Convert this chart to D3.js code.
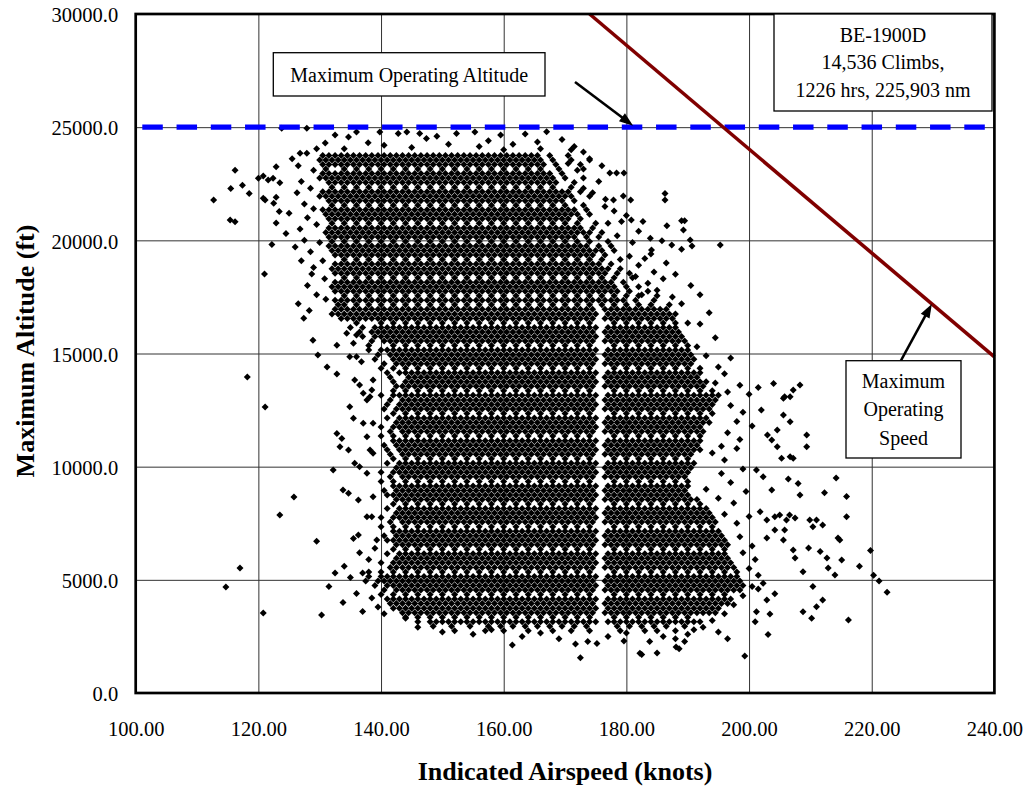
<!DOCTYPE html>
<html><head><meta charset="utf-8">
<script src="https://cdn.jsdelivr.net/npm/d3@7"></script>
<style>html,body{margin:0;padding:0;background:#fff;}svg{display:block;}</style>
</head><body><svg id="chart" width="1031" height="788"></svg>
<script>
// ---------------- DATA ----------------
const xTicks=[100,120,140,160,180,200,220,240];
const yTicks=[0,5000,10000,15000,20000,25000,30000];
const maxOperatingAltitude=25000;
const vmoKt=[174,240];
const vmoFt=[30000,14850];
const infoLines=["BE-1900D","14,536 Climbs,","1226 hrs, 225,903 nm"];

// airspeeds (kt) shared by the rows of the dense 3,000-17,000 ft core
const coreIntKt=[145,146,147,148,149,150,151,152,153,154,155,156,157,158,159,160,161,162,163,164,165,166,167,168,169,170,171,172,173,174,175,177,178,179,180,181,182,183,184,185,186];
const coreHalfKt=[145.5,146.5,147.5,148.5,149.5,150.5,151.5,152.5,153.5,154.5,155.5,156.5,157.5,158.5,159.5,160.5,161.5,162.5,163.5,164.5,165.5,166.5,167.5,168.5,169.5,170.5,171.5,172.5,173.5,174.5,176.5,177.5,178.5,179.5,180.5,181.5,182.5,183.5,184.5,185.5];
const coreSparseKt=[144,146,148,150,152,154,156,158,160,162,164,166,168,170,172,174,178,180,182,184,186,188];
// airspeeds shared by the rows of the upper 17,000-24,000 ft bands
const upperIntKt=[133,134,135,136,137,138,139,140,141,142,143,144,145,146,147,148,149,150,151,152,153,154,155,156,157,158,159,160,161,162,163];
const upperHalfKt=[133.5,134.5,135.5,136.5,137.5,138.5,139.5,140.5,141.5,142.5,143.5,144.5,145.5,146.5,147.5,148.5,149.5,150.5,151.5,152.5,153.5,154.5,155.5,156.5,157.5,158.5,159.5,160.5,161.5,162.5,163.5];
const upperSparseKt=[134,136,138,140,142,144,146,148,150,152,154,156,158,160,162,164];

// [altitude ft, shared block, extra airspeeds]
const coreRows=[
[16950,'half',"132.5 133.5 134.5 135.5 136.5 137.5 138.5 139.5 140.5 141.5 142.5 143.5 144.5 186.5"],
[16750,'int',"132 133 134 135 136 137 138 139 140 141 142 143 144 187 188"],
[16550,'half',"133.5 134.5 135.5 136.5 137.5 138.5 139.5 140.5 141.5 142.5 143.5 144.5 186.5 187.5"],
[16350,'sparse',"136 140 142 190"],
[16150,'int',"135 137 139 140 141 142 143 144 187 188"],
[15950,'half',"136.5 138.5 139.5 140.5 141.5 142.5 143.5 144.5 186.5 187.5 188.5"],
[15750,'int',"137 139 140 141 142 143 144 187 188 189"],
[15550,'half',"138.5 140.5 141.5 142.5 143.5 144.5 186.5 187.5 188.5 189.5"],
[15350,'sparse',"138 142 190"],
[15150,'int',"138 140 141 142 143 144 187 188 189 190"],
[14950,'half',"139.5 141.5 142.5 143.5 144.5 186.5 187.5 188.5 189.5 190.5"],
[14750,'int',"139 142 143 144 187 188 189 190 191"],
[14550,'half',"140.5 142.5 143.5 144.5 186.5 187.5 188.5 189.5 190.5"],
[14350,'sparse',"140 142 190 192"],
[14150,'int',"141 143 144 187 188 189 190 191 192"],
[13950,'half',"141.5 144.5 186.5 187.5 188.5 189.5 190.5 191.5"],
[13750,'int',"142 144 187 188 189 190 191 192 193"],
[13550,'half',"142.5 143.5 144.5 186.5 187.5 188.5 189.5 190.5 191.5 192.5"],
[13350,'sparse',"142 190 192 194"],
[13150,'int',"140 142 143 144 187 188 189 190 191 192 193 194 195"],
[12950,'half',"141.5 143.5 144.5 186.5 187.5 188.5 189.5 190.5 191.5 192.5 193.5 194.5"],
[12750,'int',"141 143 144 187 188 189 190 191 192 193 194"],
[12550,'half',"140.5 142.5 143.5 144.5 186.5 187.5 188.5 189.5 190.5 191.5 192.5 193.5"],
[12350,'sparse',"142 190 192 194"],
[12150,'int',"141 143 144 187 188 189 190 191 192 193"],
[11950,'half',"142.5 143.5 144.5 186.5 187.5 188.5 189.5 190.5 191.5 192.5 193.5"],
[11750,'int',"140 142 143 144 187 188 189 190 191 192"],
[11550,'half',"141.5 143.5 144.5 186.5 187.5 188.5 189.5 190.5 191.5 192.5"],
[11350,'sparse',"140 142 190 192"],
[11150,'int',"142 143 144 187 188 189 190 191 192"],
[10950,'half',"140.5 142.5 143.5 144.5 186.5 187.5 188.5 189.5 190.5 191.5"],
[10750,'int',"141 143 144 187 188 189 190 191 192"],
[10550,'half',"141.5 143.5 144.5 186.5 187.5 188.5 189.5 190.5"],
[10350,'sparse',"142 190"],
[10150,'int',"141 143 144 187 188 189 190 191"],
[9950,'half',"142.5 143.5 144.5 186.5 187.5 188.5 189.5 190.5"],
[9750,'int',"140 142 143 144 187 188 189 190"],
[9550,'half',"141.5 143.5 144.5 186.5 187.5 188.5 189.5"],
[9350,'sparse',"140 142 190"],
[9150,'int',"142 143 144 187 188 189 190"],
[8950,'half',"140.5 142.5 143.5 144.5 186.5 187.5 188.5 189.5"],
[8750,'int',"141 142 143 144 187 188 189 190"],
[8550,'half',"142.5 143.5 144.5 186.5 187.5 188.5 189.5 190.5 191.5"],
[8350,'sparse',"142 190 192"],
[8150,'int',"141 143 144 187 188 189 190 191 192 193"],
[7950,'half',"142.5 143.5 144.5 186.5 187.5 188.5 189.5 190.5 191.5 192.5 193.5"],
[7750,'int',"140 142 143 144 187 188 189 190 191 192 193 194"],
[7550,'half',"141.5 143.5 144.5 186.5 187.5 188.5 189.5 190.5 191.5 192.5 193.5 194.5"],
[7350,'sparse',"140 142 190 192 194"],
[7150,'int',"142 143 144 187 188 189 190 191 192 193 194 195"],
[6950,'half',"140.5 142.5 143.5 144.5 186.5 187.5 188.5 189.5 190.5 191.5 192.5 193.5 194.5 195.5"],
[6750,'int',"141 142 143 144 187 188 189 190 191 192 193 194 195 196"],
[6550,'half',"142.5 143.5 144.5 186.5 187.5 188.5 189.5 190.5 191.5 192.5 193.5 194.5 195.5 196.5"],
[6350,'sparse',"142 190 192 194 196"],
[6150,'int',"141 143 144 187 188 189 190 191 192 193 194 195 196"],
[5950,'half',"142.5 143.5 144.5 186.5 187.5 188.5 189.5 190.5 191.5 192.5 193.5 194.5 195.5 196.5"],
[5750,'int',"140 142 143 144 187 188 189 190 191 192 193 194 195 196 197"],
[5550,'half',"141.5 142.5 143.5 144.5 186.5 187.5 188.5 189.5 190.5 191.5 192.5 193.5 194.5 195.5 196.5 197.5"],
[5350,'sparse',"138 140 142 190 192 194 196 198"],
[5150,'int',"138 140 141 142 143 144 187 188 189 190 191 192 193 194 195 196 197 198"],
[4950,'half',"137.5 139.5 140.5 141.5 142.5 143.5 144.5 186.5 187.5 188.5 189.5 190.5 191.5 192.5 193.5 194.5 195.5 196.5 197.5 198.5"],
[4750,'int',"139 141 142 143 144 187 188 189 190 191 192 193 194 195 196 197 198 199"],
[4550,'half',"140.5 142.5 143.5 144.5 186.5 187.5 188.5 189.5 190.5 191.5 192.5 193.5 194.5 195.5 196.5 197.5 198.5"],
[4350,'sparse',"140 142 190 192 194 196"],
[4150,'int',"141 142 143 144 187 188 189 190 191 192 193 194 195 196 197"],
[3950,'half',"141.5 142.5 143.5 144.5 186.5 187.5 188.5 189.5 190.5 191.5 192.5 193.5 194.5 195.5 196.5"],
[3750,'int',"142 143 144 187 188 189 190 191 192 193 194 195"],
[3550,'half',"143.5 144.5 186.5 187.5 188.5 189.5 190.5 191.5 192.5 193.5 194.5"],
[3350,'sparse',"190"]
];

const upperRows=[
[23750,'half',"130.5 131.5 132.5 164.5 165.5 167.5 170.5"],
[23550,'int',"130 131 132 164 165 166 168 171 174"],
[23350,'half',"130.5 131.5 132.5 164.5 165.5 166.5 168.5 172.5"],
[23150,'sparse',"131 166 169 173"],
[22950,'half',"130.5 131.5 132.5 164.5 165.5 166.5 167.5 169.5"],
[22750,'int',"130 131 132 164 165 166 167 168 170 173"],
[22550,'half',"131.5 132.5 164.5 165.5 166.5 167.5 168.5 171.5"],
[22350,'sparse',"132 166 168 171"],
[22150,'half',"130.5 131.5 132.5 164.5 165.5 166.5 167.5 168.5 169.5 170.5 172.5"],
[21950,'int',"130 131 132 164 165 166 167 168 169 170 171 174"],
[21750,'half',"131.5 132.5 164.5 165.5 166.5 167.5 168.5 169.5 171.5"],
[21550,'sparse',"132 166 168 170 173"],
[21350,'half',"130.5 131.5 132.5 164.5 165.5 166.5 167.5 168.5 169.5 170.5 171.5 173.5"],
[21150,'int',"131 132 164 165 166 167 168 169 170 171 172 174"],
[20950,'half',"131.5 132.5 164.5 165.5 166.5 167.5 168.5 169.5 170.5 172.5"],
[20750,'sparse',"132 166 168 170 172 175 177"],
[20550,'half',"131.5 132.5 164.5 165.5 166.5 167.5 168.5 169.5 170.5 171.5 172.5 174.5"],
[20350,'int',"131 132 164 165 166 167 168 169 170 171 172 173 174 176"],
[20150,'half',"131.5 132.5 164.5 165.5 166.5 167.5 168.5 169.5 170.5 171.5 173.5 175.5"],
[19950,'sparse',"132 166 168 170 172 174 177"],
[19750,'half',"131.5 132.5 164.5 165.5 166.5 167.5 168.5 169.5 170.5 171.5 172.5 173.5 175.5 177.5"],
[19550,'int',"132 164 165 166 167 168 169 170 171 172 173 174 175 176 178"],
[19350,'half',"132.5 164.5 165.5 166.5 167.5 168.5 169.5 170.5 171.5 172.5 173.5 174.5 176.5"],
[19150,'sparse',"166 168 170 172 174 176 179"],
[18950,'half',"132.5 164.5 165.5 166.5 167.5 168.5 169.5 170.5 171.5 172.5 173.5 174.5 175.5 177.5"],
[18750,'int',"132 164 165 166 167 168 169 170 171 172 173 174 175 176 177 179"],
[18550,'half',"132.5 164.5 165.5 166.5 167.5 168.5 169.5 170.5 171.5 172.5 173.5 174.5 175.5 176.5 178.5 180.5"],
[18350,'sparse',"166 168 170 172 174 176 178 181"],
[18150,'half',"132.5 164.5 165.5 166.5 167.5 168.5 169.5 170.5 171.5 172.5 173.5 174.5 175.5 176.5 177.5 179.5"],
[17950,'int',"132 164 165 166 167 168 169 170 171 172 173 174 175 176 177 178 180 182"],
[17750,'half',"132.5 164.5 165.5 166.5 167.5 168.5 169.5 170.5 171.5 172.5 173.5 174.5 175.5 176.5 177.5 178.5 180.5 183.5"],
[17550,'sparse',"166 168 170 172 174 176 178 180 182 185"],
[17350,'half',"132.5 164.5 165.5 166.5 167.5 168.5 169.5 170.5 171.5 172.5 173.5 174.5 175.5 176.5 177.5 178.5 179.5 181.5 184.5"],
[17150,'sparse',"133 166 168 170 172 174 176 178 180 182 184 187"]
];

const lowRows=[
[3150,"146 148 149 150 151 152 153 154 155 156 157 158 159 160 161 162 163 164 165 166 167 168 169 170 171 172 173 174 175 177 178 179 180 181 182 183 184 185 186 187 188 189 190 191 192"],
[2950,"148.5 151.5 154.5 157.5 159.5 161.5 163.5 165.5 167.5 169.5 171.5 173.5 178.5 180.5 182.5 184.5 186.5 189.5"],
[2750,"152 157 160 164 168 171 174 179 183 185 188"]
];

const scatterTop=[[123.8,24950],[127.9,24950],[130.9,24300],[132.5,24650],[134.7,24570],[136,24790],[137.9,24310],[139.8,24790],[142.8,24720],[144.2,24790],[146.3,24720],[147.4,24500],[149.1,24600],[152.3,24720],[155.3,24790],[126.8,23850],[127.9,23850],[157.5,24400],[159.5,24650],[161.5,24250],[163.5,24700],[165.5,24350],[167,24800],[169.5,24450],[171.5,24150],[140.5,24200],[145,24100],[151,24250],[134,24050],[129.5,24050],[156,24150],[160,24000],[166,24050],[173,23900]];

const scatterLeft=[[112.7,21780],[115.5,22290],[116.2,23100],[117.4,22430],[118.5,22070],[115.4,20900],[116.2,20820],[120,22740],[120.8,22840],[121.6,22670],[122.4,22740],[122.9,23250],[123.5,22540],[120.8,21860],[121.1,21780],[122.9,21900],[122.5,21640],[123.4,21270],[122.9,20770],[122.2,19820],[121,18510],[128.7,18510],[118.2,13960],[121.1,12640],[123.5,7860],[117,5520],[114.7,4680],[120.8,3530],[125.8,8660],[130.3,3450],[131.5,4700],[132.5,5300],[129.5,6700],[133.8,4000],
[126.5,23300],[127,22600],[126.3,22100],[127.5,21600],[128,21000],[126.8,20500],[127.5,20000],[128.5,19500],[127,19100],[129,18800],[128,18000],[129.5,17600],[126.5,17200],[128.3,16900],[125.5,23600],[125,21200],[126,19700],[124.5,20300],[129,23100],[128.5,22300],[129,21400],[129.5,20700],[130,19900],[130.5,19100],[130.8,18300],[131,17400],
[128.9,15590],[129.7,14930],[131.2,14400],[127.4,16560],
[134.4,15890],[135.5,15450],[136,15820],[132.8,15370],[134.9,14860],[136,14860],[136.8,14640],[132.8,14090],[135.7,13830],[136.5,13610],[137.1,13240],[137.7,12940],[138.2,13090],[138.5,13390],[138.7,13830],[134.9,12650],[135.5,12140],[137.1,11920],[138.7,11920],[132.8,11470],[133.6,11250],[133.3,10880],[134.7,10740],[137.7,11320],[138.2,10740],[138.7,10590],[135.7,10150],[136.5,10000],[132.2,9850],[137.7,9710],[133.8,8970],[134.7,8820],[136.3,8530],[138.7,8670],[137.7,7790],[138.5,7790],[135.5,6830],[136.3,6980],[139.3,6760],
[136.5,6200],[138,5900],[134,5600],[137,5300],[135,5100],[139,6400],[136,4400],[138.5,4200],[139.5,3800],[137,3600]];

const scatterRight=[[177.3,22980],[178.4,22980],[179.6,22980],[176.6,21820],[177.9,21780],[179.5,21960],[180.7,21780],[186.3,22070],[186.3,21780],[179.2,20830],[180.8,20900],[182.7,20830],[186.6,20640],[189,20860],[189.3,20460],[189.5,20860],[183.9,20090],[185.8,19980],[187.4,19790],[190.4,20010],[190.7,19750],[195.3,19790],[184.1,19570],[189,19610],
[170.5,23400],[172,23100],[174,23600],[175.5,22600],[173,22300],[176,23300],[171,24000],[174.5,22100],[176.5,21500],[178,21300],[180,21100],[182,20400],[178.5,20200],[181,19900],[180.5,19300],[183,19200],[182,18900],[184.5,18600],[186,18300],[183.5,18100],[185,17800],[187.5,17500],[189,17200],[182.5,17600],[184,19400],[186.5,19000],[188,18500],[190.5,18000],[192,17600],[181.5,18400],
[193.5,16800],[192,16300],[194.5,15700],[191.5,15300],[193,14900],[195,14400],[197,14800],[196,14100],[194.5,13700],[196.5,13300],[198.5,13600],[200,13200],[201.5,13500],[197,12700],[199,12400],[198,12000],[200.5,11800],[196.5,11500],[198.5,11200],[195.5,10900],[202,12500],[203,11400],
[208.3,13610],[207.2,13390],[206.7,13090],[205.6,13020],[205.6,12280],[206.7,11980],[209.4,11400],[209.4,10880],[207.2,10370],[205.3,10370],[204,13680],[205.8,13090],[204.6,11620],[203.7,11180],[204.6,10880],[206.7,10440],
[194,10600],[196,10300],[198,10800],[195.5,9700],[197,9300],[199,9900],[193,9000],[195,8600],[197.5,8400],[199.5,8900],[196,7900],[198,7500],[200,7800],[198.5,6900],[200.5,6500],[199,6200],[201,5900],[200,5500],[201.5,5200],[200.5,4700],[199,4300],[197.5,3900],[196,3500],[194,3200],[192.5,2900],[190,2600],[188,2400],
[201.2,9850],[202.3,9560],[203.7,8970],[206.4,9450],[208,9260],[208.3,8750],[212.3,8850],[214.2,9500],[215.9,8680],
[201.8,8010],[202.9,7640],[204.2,7790],[205,7870],[206.1,7640],[206.6,7870],[207.5,7730],[209.9,7640],[210.4,7350],[211,7640],[212,7420],[214.5,6850],[215.9,7790],
[202.9,6850],[204.2,7200],[205.8,7200],[205.6,6760],[207.2,6320],[207.5,5960],[209.7,6410],[211.6,6250],[212.7,5960],[212.9,5520],[214,5210],[214.8,6760],[215.1,5880],[208.8,5360],
[202.3,4850],[201.5,4600],[204.2,4380],[202.9,4110],[201.2,3590],[203.4,3490],[201,3150],[203.1,2590],[210.4,4700],[212,4110],[208.8,3590],[210.2,3300],[211,3810],[216.2,3220],
[219.8,6300],[220.3,5200],[221.2,4950],[222.5,4450],[218,5600]];

const scatterLow=[[161.4,2120],[171.7,2160],[172.5,1560],[173.7,2270],[175.2,2190],[179.6,2300],[182.2,1760],[182.5,1700],[183.8,2270],[185,1770],[188.1,2030],[188.6,1960],[189.5,2270],[199.3,1630],[146,2900],[150,2700],[155,2600],[158,2800],[163,2500],[166,2650],[169,2400],[177,2500],[180,2650],[186,2500],[191,2800],[195,2700],[196.5,2400],[144,3300],[140.5,3500]];

// ---------------- BUILD ----------------
const parse=s=>s.trim().split(/\s+/).map(Number);
const pts=[];
function addRows(rows,blocks){
  rows.forEach(([ft,kind,extra])=>{
    (blocks[kind]||[]).concat(parse(extra)).forEach(kt=>pts.push([kt,ft]));
  });
}
addRows(coreRows,{int:coreIntKt,half:coreHalfKt,sparse:coreSparseKt});
addRows(upperRows,{int:upperIntKt,half:upperHalfKt,sparse:upperSparseKt});
lowRows.forEach(([ft,s])=>parse(s).forEach(kt=>pts.push([kt,ft])));
[scatterTop,scatterLeft,scatterRight,scatterLow].forEach(a=>a.forEach(p=>pts.push(p)));

// ---------------- DRAW ----------------
const FONT='"Liberation Serif","Times New Roman",Times,serif';
const plot={left:135.7,right:994.4,top:14,bottom:693};
const x=d3.scaleLinear().domain([xTicks[0],xTicks[xTicks.length-1]]).range([plot.left,plot.right]);
const y=d3.scaleLinear().domain([yTicks[0],yTicks[yTicks.length-1]]).range([plot.bottom,plot.top]);
const svg=d3.select('#chart');
svg.append('rect').attr('width',1031).attr('height',788).attr('fill','#fff');

// grid
const gx=svg.append('g').attr('transform',`translate(0,${plot.bottom})`)
  .call(d3.axisBottom(x).tickValues(xTicks.slice(1,-1)).tickSize(-(plot.bottom-plot.top)).tickFormat(''));
gx.select('.domain').remove();
gx.selectAll('line').attr('stroke','#333').attr('stroke-width',1);
const gy=svg.append('g').attr('transform',`translate(${plot.left},0)`)
  .call(d3.axisLeft(y).tickValues(yTicks.slice(1,-1)).tickSize(-(plot.right-plot.left)).tickFormat(''));
gy.select('.domain').remove();
gy.selectAll('line').attr('stroke','#333').attr('stroke-width',1);

// points
const diamond=d3.symbol().type(d3.symbolSquare).size(24.5)();
svg.append('g').selectAll('path').data(pts).join('path')
  .attr('d',diamond)
  .attr('transform',d=>`translate(${x(d[0]).toFixed(2)},${y(d[1]).toFixed(2)}) rotate(45)`)
  .attr('fill','#000');

// max operating altitude
const dashStart=142.3-plot.left, period=34.25;
svg.append('line').attr('x1',plot.left).attr('x2',plot.right)
  .attr('y1',y(maxOperatingAltitude)).attr('y2',y(maxOperatingAltitude))
  .attr('stroke','#0000ff').attr('stroke-width',5.3)
  .attr('stroke-dasharray','20.5,13.75').attr('stroke-dashoffset',period-dashStart);

// max operating speed
svg.append('path').datum(d3.zip(vmoKt,vmoFt))
  .attr('d',d3.line().x(d=>x(d[0])).y(d=>y(d[1])))
  .attr('stroke','#800000').attr('stroke-width',3.6).attr('fill','none');

// frame
svg.append('rect').attr('x',plot.left).attr('y',plot.top)
  .attr('width',plot.right-plot.left).attr('height',plot.bottom-plot.top)
  .attr('fill','none').attr('stroke','#000').attr('stroke-width',2.7);

// axes labels
const xa=svg.append('g').attr('transform',`translate(0,${plot.bottom})`)
  .call(d3.axisBottom(x).tickValues(xTicks).tickFormat(d=>d.toFixed(2)).tickSize(0));
xa.select('.domain').remove();
xa.selectAll('text').attr('y',42.5).attr('dy',0).attr('font-size',20.5).attr('font-family',FONT).attr('fill','#000');
const ya=svg.append('g').attr('transform',`translate(${plot.left},0)`)
  .call(d3.axisLeft(y).tickValues(yTicks).tickFormat(d=>d.toFixed(1)).tickSize(0));
ya.select('.domain').remove();
ya.selectAll('text').attr('x',-17.5).attr('dy',7.7).attr('font-size',20.5).attr('font-family',FONT).attr('fill','#000');

svg.append('text').attr('x',(plot.left+plot.right)/2).attr('y',780).attr('text-anchor','middle')
  .attr('font-family',FONT).attr('font-weight','bold').attr('font-size',26).text('Indicated Airspeed (knots)');
svg.append('text').attr('transform','translate(34,351) rotate(-90)').attr('text-anchor','middle')
  .attr('font-family',FONT).attr('font-weight','bold').attr('font-size',26).text('Maximum Altitude (ft)');

// annotations
const ann=svg.append('g');
function box(x0,y0,x1,y1){ann.append('rect').attr('x',x0).attr('y',y0).attr('width',x1-x0).attr('height',y1-y0).attr('fill','#fff').attr('stroke','#000').attr('stroke-width',1.3);}
function label(t,cx,by){ann.append('text').attr('x',cx).attr('y',by).attr('text-anchor','middle').attr('font-family',FONT).attr('font-size',20).attr('fill','#000').text(t);}
function arrow(x1,y1,x2,y2){
  const dx=x2-x1,dy=y2-y1,L=Math.hypot(dx,dy),ux=dx/L,uy=dy/L,hl=14,hw=5;
  const bx=x2-ux*hl,by=y2-uy*hl;
  ann.append('line').attr('x1',x1).attr('y1',y1).attr('x2',bx+ux*2).attr('y2',by+uy*2).attr('stroke','#000').attr('stroke-width',2.6);
  ann.append('path').attr('d',`M${x2},${y2}L${bx-uy*hw},${by+ux*hw}L${bx+uy*hw},${by-ux*hw}Z`).attr('fill','#000');
}
const vmoAt=d3.scaleLinear().domain(vmoKt).range(vmoFt);
arrow(575,82,x(181.1),y(maxOperatingAltitude)-1.5);
box(273.3,52.7,545,96);
label('Maximum Operating Altitude',409.2,81.5);

box(774,14,992,111);
infoLines.forEach((t,i)=>label(t,883,41.7+i*27.7));

arrow(900.7,361,x(229.8),y(vmoAt(229.8)));
box(846,360.7,961,458);
['Maximum','Operating','Speed'].forEach((t,i)=>label(t,903.5,388+i*28.3));
</script></body></html>
